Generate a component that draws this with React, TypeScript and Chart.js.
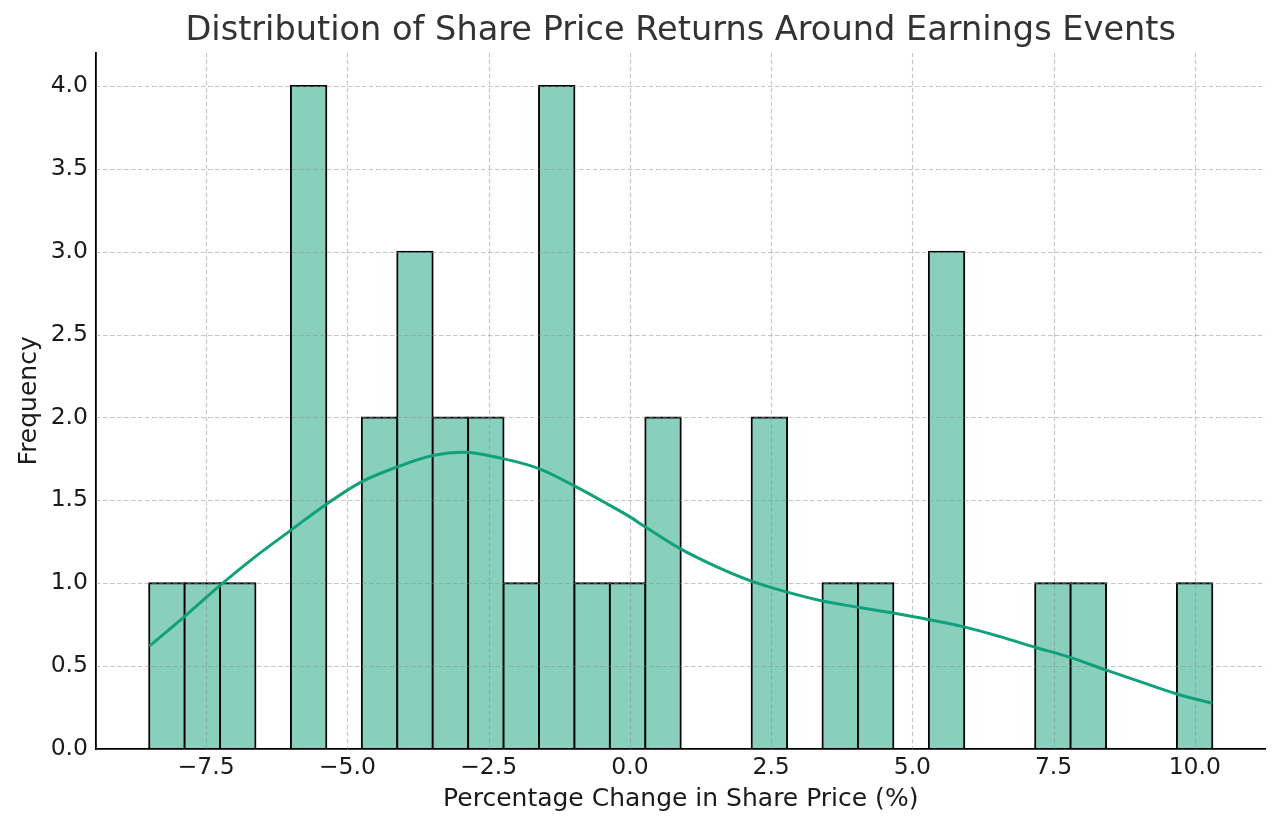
import React, { useEffect, useRef } from "react";
import { Chart, registerables } from "chart.js";

Chart.register(...registerables);

const TITLE = "Distribution of Share Price Returns Around Earnings Events";
const X_LABEL = "Percentage Change in Share Price (%)";
const Y_LABEL = "Frequency";

// Histogram bins (30 equal-width bins)
const BIN_START = -8.51;
const BIN_END = 10.31;
const binCounts = [1, 1, 1, 0, 4, 0, 2, 3, 2, 2, 1, 4, 1, 1, 2, 0, 0, 2, 0, 1, 1, 0, 3, 0, 0, 1, 1, 0, 0, 1];

// KDE curve
const kdeX = [-8.51, -7.88, -7.26, -6.63, -6.0, -5.38, -4.76, -4.13, -3.49, -2.95, -2.23, -1.6, -1.0, -0.41, 0.0, 0.27, 0.88, 1.5, 2.15, 2.77, 3.41, 4.04, 4.66, 5.3, 5.9, 6.55, 7.17, 7.79, 8.42, 9.03, 9.68, 10.31];
const kdeY = [0.62, 0.8, 0.985, 1.16, 1.32, 1.475, 1.61, 1.7, 1.77, 1.79, 1.75, 1.69, 1.59, 1.48, 1.4, 1.34, 1.21, 1.105, 1.013, 0.948, 0.893, 0.855, 0.82, 0.78, 0.738, 0.678, 0.614, 0.553, 0.477, 0.406, 0.332, 0.276];

const xTickValues = [-7.5, -5.0, -2.5, 0.0, 2.5, 5.0, 7.5, 10.0];
const yTickValues = [0.0, 0.5, 1.0, 1.5, 2.0, 2.5, 3.0, 3.5, 4.0];
const Y_MAX = 4.2;

const FONT = "DejaVu Sans";
const BAR_FILL = "#88d0bb";
const LINE_COLOR = "#10a07b";
const TEXT_COLOR = "#1a1a1a";

const fmt = (v: number) => (v < 0 ? "\u2212" : "") + Math.abs(v).toFixed(1);

export default function App() {
  const ref = useRef<HTMLCanvasElement>(null);

  useEffect(() => {
    if (!ref.current) return;
    const span = BIN_END - BIN_START;
    const binWidth = span / binCounts.length;
    const barData = binCounts.map((c, i) => ({ x: BIN_START + binWidth * (i + 0.5), y: c }));
    const lineData = kdeX.map((x, i) => ({ x, y: kdeY[i] }));

    const gridOverBars = {
      id: "gridOverBars",
      afterDatasetDraw(chart: any, args: any) {
        if (args.index !== 0) return;
        const { ctx, chartArea: a } = chart;
        const xs = chart.scales.x;
        const ys = chart.scales.y;
        ctx.save();
        ctx.beginPath();
        ctx.rect(a.left, a.top, a.right - a.left, a.bottom - a.top);
        ctx.clip();
        ctx.strokeStyle = "rgba(140,140,140,0.5)";
        ctx.lineWidth = 1.1;
        ctx.setLineDash([4.5, 2.5]);
        for (const v of xTickValues) {
          const px = Math.round(xs.getPixelForValue(v)) + 0.5;
          ctx.beginPath();
          ctx.moveTo(px, a.top);
          ctx.lineTo(px, a.bottom);
          ctx.stroke();
        }
        for (const v of yTickValues) {
          if (v === 0) continue;
          const py = Math.round(ys.getPixelForValue(v)) + 0.5;
          ctx.beginPath();
          ctx.moveTo(a.left, py);
          ctx.lineTo(a.right, py);
          ctx.stroke();
        }
        ctx.restore();
      },
    };

    const titlePlugin = {
      id: "axesTitle",
      afterDraw(chart: any) {
        const { ctx, chartArea: a } = chart;
        ctx.save();
        ctx.font = `normal 33.6px "${FONT}"`;
        ctx.fillStyle = "#333333";
        ctx.textAlign = "center";
        ctx.textBaseline = "alphabetic";
        ctx.fillText(TITLE, (a.left + a.right) / 2, 40);
        ctx.restore();
      },
    };

    const chart = new Chart(ref.current, {
      type: "bar",
      data: {
        datasets: [
          {
            type: "bar",
            data: barData as any,
            backgroundColor: BAR_FILL,
            borderColor: "#000000",
            borderWidth: (c: any) => (c.raw && c.raw.y === 0 ? 0 : 1.9),
            inflateAmount: (c: any) => (c.raw && c.raw.y === 0 ? 0 : 0.95),
            borderSkipped: false,
            barPercentage: 1,
            categoryPercentage: 1,
            grouped: false,
            order: 1,
          } as any,
          {
            type: "line",
            data: lineData as any,
            borderColor: LINE_COLOR,
            borderWidth: 3,
            pointRadius: 0,
            cubicInterpolationMode: "monotone",
            fill: false,
            order: 0,
          } as any,
        ],
      },
      options: {
        responsive: false,
        animation: false,
        devicePixelRatio: 1,
        layout: { padding: { left: 0, right: 14.5, top: 52.7, bottom: 0 } },
        plugins: {
          legend: { display: false },
          tooltip: { enabled: false },
          title: { display: false },
        },
        scales: {
          x: {
            type: "linear",
            offset: false,
            min: BIN_START - 0.05 * span,
            max: BIN_END + 0.05 * span,
            afterBuildTicks: (s: any) => {
              s.ticks = xTickValues.map((v) => ({ value: v }));
            },
            afterFit: (s: any) => {
              s.height = 81;
            },
            grid: { display: false, drawTicks: false },
            border: { display: true, color: "#000000", width: 1.8 },
            ticks: {
              color: TEXT_COLOR,
              font: { family: FONT, size: 23.5 },
              padding: 5,
              maxRotation: 0,
              autoSkip: false,
              callback: (v: any) => fmt(Number(v)),
            },
            title: {
              display: true,
              text: X_LABEL,
              color: TEXT_COLOR,
              font: { family: FONT, size: 25 },
              padding: { top: 0, bottom: 15.5 },
            },
          },
          y: {
            type: "linear",
            min: 0,
            max: Y_MAX,
            afterBuildTicks: (s: any) => {
              s.ticks = yTickValues.map((v) => ({ value: v }));
            },
            afterFit: (s: any) => {
              s.width = 96;
            },
            grid: { display: false, drawTicks: false },
            border: { display: true, color: "#000000", width: 1.8 },
            ticks: {
              color: TEXT_COLOR,
              font: { family: FONT, size: 23.5 },
              padding: 8,
              autoSkip: false,
              callback: (v: any) => Number(v).toFixed(1),
            },
            title: {
              display: true,
              text: Y_LABEL,
              color: TEXT_COLOR,
              font: { family: FONT, size: 25 },
              padding: { top: 14.5, bottom: 0 },
            },
          },
        },
      },
      plugins: [gridOverBars, titlePlugin],
    } as any);

    return () => chart.destroy();
  }, []);

  return (
    <div style={{ position: "absolute", left: 0, top: 0, width: 1280, height: 830, background: "#ffffff" }}>
      <canvas ref={ref} width={1280} height={830} style={{ display: "block" }} />
    </div>
  );
}
